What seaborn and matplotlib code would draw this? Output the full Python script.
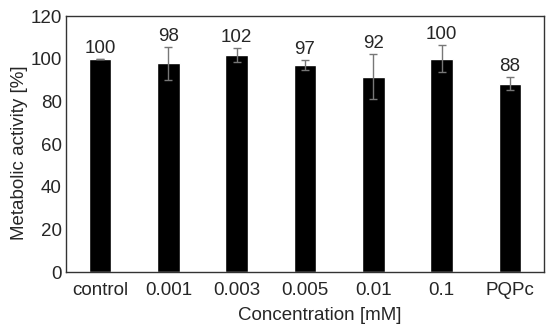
import pandas as pd
import seaborn as sns
import matplotlib.pyplot as plt
import numpy as np

# Data
concentrations = ["control", "0.001", "0.003", "0.005", "0.01", "0.1", "PQPc"]
activity = [100, 97.8, 101.7, 97.2, 91.6, 100, 88.3]
errors = [0, 7.6, 3.3, 2.3, 10.6, 6.3, 3.0]
labels = ["100", "98", "102", "97", "92", "100", "88"]

df = pd.DataFrame({"Concentration": concentrations, "Activity": activity})

sns.set_style("white")
plt.rcParams["font.family"] = ["Liberation Sans", "DejaVu Sans"]

fig, ax = plt.subplots(figsize=(5.5, 3.29), dpi=100)
sns.barplot(data=df, x="Concentration", y="Activity", color="black",
            width=0.33, errorbar=None, ax=ax, saturation=1)

x = np.arange(len(concentrations))
ax.errorbar(x, activity, yerr=errors, fmt="none", ecolor="#777777",
            elinewidth=1, capsize=3, capthick=1)

# value labels above each bar / error bar
for xi, v, e, lab in zip(x, activity, errors, labels):
    ax.text(xi, v + e + 1.0, lab, ha="center", va="bottom", fontsize=13.5)

ax.set_xlim(-0.5, len(concentrations) - 0.5)
ax.set_ylim(0, 120)
ax.set_yticks([0, 20, 40, 60, 80, 100, 120])
ax.tick_params(axis="x", labelsize=13.5, length=0, pad=7)
ax.tick_params(axis="y", labelsize=13.5, length=0, pad=3)
ax.set_xlabel("Concentration [mM]", fontsize=13.5)
ax.set_ylabel("Metabolic activity [%]", fontsize=13.5)
ax.xaxis.set_label_coords(0.531, -0.137)
ax.yaxis.set_label_coords(-0.08, 0.465)

for s in ax.spines.values():
    s.set_visible(True)
    s.set_color("#333333")
    s.set_linewidth(1)

plt.subplots_adjust(left=0.12, right=0.989, top=0.951, bottom=0.173)
plt.savefig("out.png", dpi=100)
